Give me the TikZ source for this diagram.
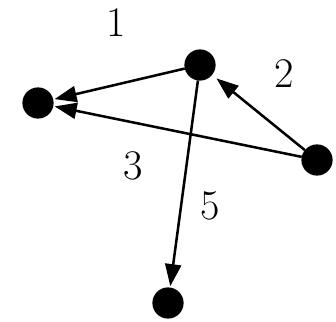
\documentclass[tikz,border=0pt]{standalone}
\usepackage{tikz}
\usetikzlibrary{arrows.meta}

\begin{document}
\begin{tikzpicture}[
        x=0.025cm, y=-0.025cm,
        vertex/.style={circle, fill=black, draw=none, minimum size=0.78cm, inner sep=0pt, outer sep=0pt},
        edgelabel/.style={font=\fontsize{30}{30}\selectfont, inner sep=0pt},
        arc/.style={line width=1.8pt, -{Triangle[length=0.55cm, width=0.4cm]}, shorten >=1pt}
    ]
    \useasboundingbox (0,0) rectangle (336,322);

    % Vertices
    \node[vertex] (west) at (38,103) {};
    \node[vertex] (north) at (200,65) {};
    \node[vertex] (east) at (317,160) {};
    \node[vertex] (south) at (168,303) {};

    % Edge labels
    \node[edgelabel] (lab1) at (116,23) {1};
    \node[edgelabel] (lab2) at (284,74) {2};
    \node[edgelabel] (lab3) at (133,166) {3};
    \node[edgelabel] (lab5) at (210,206) {5};

    % --- Edges ---
    \draw[arc] (north) -- (west);
    \draw[arc, shorten >=4pt] (east) -- (north);
    \draw[arc] (east) -- (west);
    \draw[arc] (north) -- (south);

\end{tikzpicture}
\end{document}
